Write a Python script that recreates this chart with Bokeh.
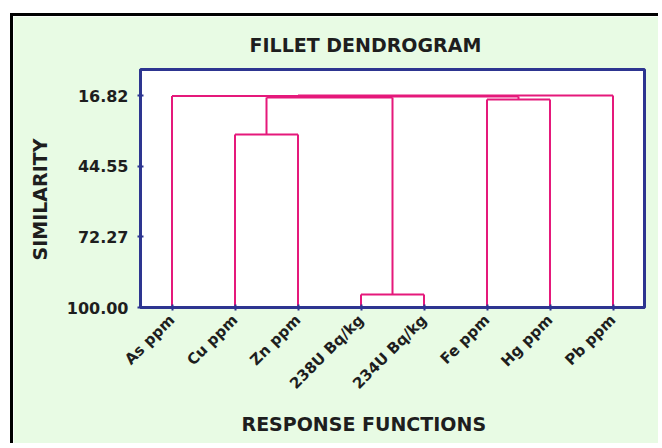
import math
from bokeh.plotting import figure
from bokeh.models import Range1d, FixedTicker, Title, PrintfTickFormatter
from bokeh.embed import file_html
from bokeh.resources import INLINE

# ---- data ----
leaves = ["As ppm", "Cu ppm", "Zn ppm", "238U Bq/kg", "234U Bq/kg", "Fe ppm", "Hg ppm", "Pb ppm"]
# merges: cluster ids 0..7 are leaves, each merge creates id 8, 9, ...
merge_left = [3, 1, 5, 9, 11, 0, 13]
merge_right = [4, 2, 6, 8, 10, 12, 7]
merge_similarity = [94.9, 32.1, 18.4, 17.6, 17.2, 17.0, 16.82]
y_ticks = [16.82, 44.55, 72.27, 100.00]
leaf_similarity = 100.0

# ---- build dendrogram segments ----
pos = {i: float(i + 1) for i in range(len(leaves))}
hgt = {i: leaf_similarity for i in range(len(leaves))}
x0, y0, x1, y1 = [], [], [], []
for k, (a, b, s) in enumerate(zip(merge_left, merge_right, merge_similarity)):
    cid = len(leaves) + k
    for c in (a, b):
        x0.append(pos[c]); y0.append(hgt[c]); x1.append(pos[c]); y1.append(s)
    x0.append(pos[a]); y0.append(s); x1.append(pos[b]); y1.append(s)
    pos[cid] = (pos[a] + pos[b]) / 2.0
    hgt[cid] = s

BLUE = "#2d3590"
PINK = "#e5197b"
TXT = "#1e1e1e"
FONT = "DejaVu Sans"

p = figure(width=648, height=430, output_backend="svg", toolbar_location=None,
           x_range=Range1d(0.5, 8.5), y_range=Range1d(100, 6.6),
           min_border_left=127, min_border_right=17, min_border_top=53, min_border_bottom=139,
           background_fill_color="white", border_fill_color="#e8fbe4",
           outline_line_color=BLUE, outline_line_width=3,
           styles={"position": "relative", "top": "13px", "left": "10px",
                   "border-top": "3px solid black", "border-left": "3px solid black"})
p.xgrid.visible = False
p.ygrid.visible = False

p.segment(x0=x0, y0=y0, x1=x1, y1=y1, line_color=PINK, line_width=2)

for ax in (p.xaxis[0], p.yaxis[0]):
    ax.axis_line_color = BLUE
    ax.axis_line_width = 3
    ax.major_tick_line_color = BLUE
    ax.major_tick_line_width = 2
    ax.major_tick_in = 3
    ax.major_tick_out = 3
    ax.minor_tick_line_color = None
    ax.major_label_text_font = FONT
    ax.major_label_text_font_style = "bold"
    ax.major_label_text_color = TXT

p.yaxis.ticker = FixedTicker(ticks=y_ticks)
p.yaxis.formatter = PrintfTickFormatter(format="%.2f")
p.yaxis.major_label_text_font_size = "16px"
p.yaxis.major_label_standoff = 9

p.xaxis.ticker = FixedTicker(ticks=[i + 1 for i in range(len(leaves))])
p.xaxis.major_label_overrides = {i + 1: name for i, name in enumerate(leaves)}
p.xaxis.major_label_orientation = math.pi / 4
p.xaxis.major_label_text_font_size = "15px"
p.xaxis.major_label_standoff = 7

def ttl(text, offset, standoff, side):
    p.add_layout(Title(text=text, align="left", offset=offset, standoff=standoff,
                       text_font=FONT, text_font_style="bold", text_font_size="19px",
                       text_color=TXT), side)

ttl("FILLET DENDROGRAM", 109, 27, "above")
ttl("RESPONSE  FUNCTIONS", 101, 18, "below")
ttl("SIMILARITY", 47, 25, "left")

open("out.html", "w").write(file_html(p, INLINE))
